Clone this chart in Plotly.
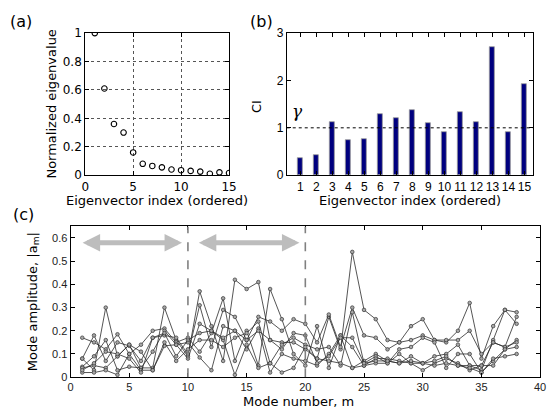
import plotly.graph_objects as go

# ---------------- data ----------------
eig_index = list(range(1, 16))
eig_values = [1.0, 0.61, 0.36, 0.30, 0.16, 0.08, 0.065, 0.055, 0.04, 0.035, 0.03, 0.025, 0.01, 0.02, 0.015]

ci_index = list(range(1, 16))
ci_values = [0.37, 0.43, 1.13, 0.75, 0.77, 1.30, 1.20, 1.37, 1.10, 0.91, 1.33, 1.13, 2.70, 0.92, 1.92]
gamma = 1.0

mode_number = list(range(1, 39))
amp_1 = [0.08, 0.03, 0.30, 0.09, 0.14, 0.04, 0.04, 0.30, 0.16, 0.09, 0.37, 0.22, 0.07, 0.42, 0.38, 0.41, 0.16, 0.15, 0.15, 0.12,
         0.08, 0.26, 0.12, 0.54, 0.29, 0.25, 0.16, 0.15, 0.22, 0.25, 0.16, 0.15, 0.20, 0.32, 0.08, 0.22, 0.29, 0.23]
amp_2 = [0.17, 0.15, 0.12, 0.185, 0.10, 0.14, 0.20, 0.21, 0.15, 0.17, 0.11, 0.19, 0.34, 0.07, 0.20, 0.05, 0.38, 0.25, 0.10, 0.05,
         0.22, 0.04, 0.18, 0.04, 0.07, 0.10, 0.07, 0.06, 0.09, 0.06, 0.09, 0.10, 0.14, 0.05, 0.03, 0.16, 0.29, 0.28]
amp_3 = [0.08, 0.18, 0.07, 0.15, 0.135, 0.07, 0.17, 0.18, 0.17, 0.10, 0.31, 0.13, 0.29, 0.26, 0.16, 0.26, 0.24, 0.20, 0.25, 0.23,
         0.15, 0.27, 0.13, 0.30, 0.18, 0.17, 0.12, 0.15, 0.16, 0.18, 0.16, 0.16, 0.16, 0.20, 0.10, 0.15, 0.13, 0.26]
amp_4 = [0.045, 0.09, 0.16, 0.03, 0.045, 0.04, 0.11, 0.20, 0.14, 0.08, 0.23, 0.20, 0.16, 0.01, 0.14, 0.04, 0.06, 0.14, 0.17, 0.14,
         0.12, 0.13, 0.05, 0.28, 0.06, 0.09, 0.06, 0.12, 0.13, 0.17, 0.15, 0.04, 0.10, 0.10, 0.02, 0.07, 0.12, 0.16]
amp_5 = [0.04, 0.05, 0.04, 0.09, 0.14, 0.11, 0.03, 0.135, 0.14, 0.15, 0.085, 0.03, 0.22, 0.20, 0.12, 0.21, 0.02, 0.10, 0.08, 0.07,
         0.05, 0.10, 0.18, 0.13, 0.05, 0.08, 0.08, 0.07, 0.06, 0.03, 0.06, 0.08, 0.06, 0.03, 0.05, 0.15, 0.13, 0.15]
amp_6 = [0.02, 0.02, 0.03, 0.01, 0.10, 0.03, 0.03, 0.15, 0.07, 0.12, 0.16, 0.16, 0.13, 0.17, 0.19, 0.24, 0.06, 0.02, 0.04, 0.13,
         0.08, 0.07, 0.06, 0.04, 0.05, 0.06, 0.06, 0.10, 0.06, 0.06, 0.05, 0.06, 0.05, 0.05, 0.05, 0.05, 0.12, 0.13]
amp_7 = [0.03, 0.06, 0.11, 0.10, 0.08, 0.02, 0.17, 0.19, 0.09, 0.16, 0.19, 0.20, 0.17, 0.20, 0.16, 0.20, 0.16, 0.12, 0.19, 0.18,
         0.06, 0.09, 0.17, 0.17, 0.06, 0.07, 0.07, 0.06, 0.07, 0.06, 0.07, 0.09, 0.05, 0.04, 0.02, 0.08, 0.09, 0.10]
amp_series = [amp_1, amp_2, amp_3, amp_4, amp_5, amp_6, amp_7]

group_bounds = [10, 20]

# ---------------- figure ----------------
W, H = 554, 418
fig = go.Figure()

def px_x(p):
    return p / W

def px_y(p):
    return 1 - p / H

# (a) eigenvalues
fig.add_trace(go.Scatter(x=eig_index, y=eig_values, mode="markers", xaxis="x", yaxis="y",
                         marker=dict(symbol="circle-open", size=5.5, color="black", line=dict(width=1.1)),
                         showlegend=False))

# (b) CI bars
fig.add_trace(go.Bar(x=ci_index, y=ci_values, xaxis="x2", yaxis="y2", width=0.34,
                     marker=dict(color="#00007f", line=dict(color="#999999", width=0.8)),
                     showlegend=False))

# (c) mode amplitudes
for s in amp_series:
    fig.add_trace(go.Scatter(x=mode_number, y=s, mode="lines+markers", xaxis="x3", yaxis="y3",
                             line=dict(color="#2a2a2a", width=0.8),
                             marker=dict(symbol="circle", size=3.6, color="#a8a8a8",
                                         line=dict(color="#333333", width=0.7)),
                             showlegend=False))

tickfont_big = dict(family="DejaVu Sans", size=12, color="black")
tickfont_b = dict(family="Liberation Sans", size=12, color="black")
tickfont_small = dict(family="Liberation Sans", size=11, color="#222222")

common = dict(showline=True, linecolor="black", linewidth=1, mirror="ticks", ticks="inside",
              ticklen=4, tickcolor="black", zeroline=False, tickangle=0)

fig.update_layout(
    width=W, height=H, margin=dict(l=0, r=0, t=0, b=0),
    paper_bgcolor="white", plot_bgcolor="white", bargap=0,
    xaxis=dict(domain=[px_x(83), px_x(230)], anchor="y", range=[0, 15], tickvals=[0, 5, 10, 15],
               showgrid=True, gridcolor="#555555", griddash="dot", gridwidth=1,
               tickfont=tickfont_big, **common),
    yaxis=dict(domain=[px_y(174), px_y(27)], anchor="x", range=[0, 1],
               tickvals=[0, 0.2, 0.4, 0.6, 0.8, 1], ticktext=["0", "0.2", "0.4", "0.6", "0.8", "1"],
               showgrid=True, gridcolor="#555555", griddash="dot", gridwidth=1,
               tickfont=tickfont_big, **common),
    xaxis2=dict(domain=[px_x(289), px_x(541)], anchor="y2", range=[0.15, 15.55], tickvals=ci_index,
                showgrid=False, tickfont=tickfont_b, **common),
    yaxis2=dict(domain=[px_y(174), px_y(27)], anchor="x2", range=[0, 3], tickvals=[0, 1, 2, 3],
                showgrid=False, tickfont=tickfont_b, **common),
    xaxis3=dict(domain=[px_x(68), px_x(548)], anchor="y3", range=[0, 40], tickvals=list(range(0, 41, 5)),
                showgrid=False, tickfont=tickfont_small, **common),
    yaxis3=dict(domain=[px_y(383), px_y(227)], anchor="x3", range=[0, 0.65],
                tickvals=[0, 0.1, 0.2, 0.3, 0.4, 0.5, 0.6],
                ticktext=["0", "0.1", "0.2", "0.3", "0.4", "0.5", "0.6"],
                showgrid=False, tickfont=tickfont_small, **common),
)

shapes = []
# gamma threshold line
shapes.append(dict(type="line", xref="x2", yref="y2", x0=0.15, x1=15.55, y0=gamma, y1=gamma,
                   line=dict(color="black", width=1, dash="dot")))
# group boundaries
for b in group_bounds:
    shapes.append(dict(type="line", xref="x3", yref="y3", x0=b, x1=b, y0=0, y1=0.65,
                       line=dict(color="#808080", width=1.6, dash="dash")))
fig.update_layout(shapes=shapes)

title_font = dict(family="DejaVu Sans", size=13, color="black")
label_font = dict(family="DejaVu Sans", size=16, color="black")
ann = [
    dict(text="(a)", x=px_x(4), y=px_y(15), xanchor="left", yanchor="middle", font=label_font),
    dict(text="(b)", x=px_x(249), y=px_y(15), xanchor="left", yanchor="middle", font=label_font),
    dict(text="(c)", x=px_x(7), y=px_y(215), xanchor="left", yanchor="middle", font=label_font),
    dict(text="Normalized eigenvalue", x=px_x(49), y=px_y(100), textangle=-90, font=title_font,
         xanchor="center", yanchor="middle"),
    dict(text="Eigenvector index (ordered)", x=px_x(156), y=px_y(200), font=title_font,
         xanchor="center", yanchor="middle"),
    dict(text="CI", x=px_x(258), y=px_y(103), textangle=-90, font=title_font,
         xanchor="center", yanchor="middle"),
    dict(text="Eigenvector index (ordered)", x=px_x(415), y=px_y(200), font=title_font,
         xanchor="center", yanchor="middle"),
    dict(text="Mode amplitude, |a<sub>m</sub>|", x=px_x(30), y=px_y(305), textangle=-90, font=title_font,
         xanchor="center", yanchor="middle"),
    dict(text="Mode number, m", x=px_x(301), y=px_y(408), font=title_font,
         xanchor="center", yanchor="middle"),
    dict(text="<i>γ</i>", x=px_x(300), y=px_y(108), font=dict(family="DejaVu Serif", size=17, color="black"),
         xanchor="center", yanchor="middle"),
]
for a in ann:
    a.update(xref="paper", yref="paper", showarrow=False)

# double-headed grey arrows
arrows = [(0.9, 9.5), (10.8, 19.5)]
for x0, x1 in arrows:
    ann.append(dict(xref="x3", yref="y3", axref="x3", ayref="y3", x=x1, y=0.58, ax=x0, ay=0.58,
                    showarrow=True, arrowhead=2, arrowside="end+start", arrowsize=0.7,
                    arrowwidth=5, arrowcolor="#bdbdbd", text=""))
fig.update_layout(annotations=ann)

fig.write_html("out.html")
